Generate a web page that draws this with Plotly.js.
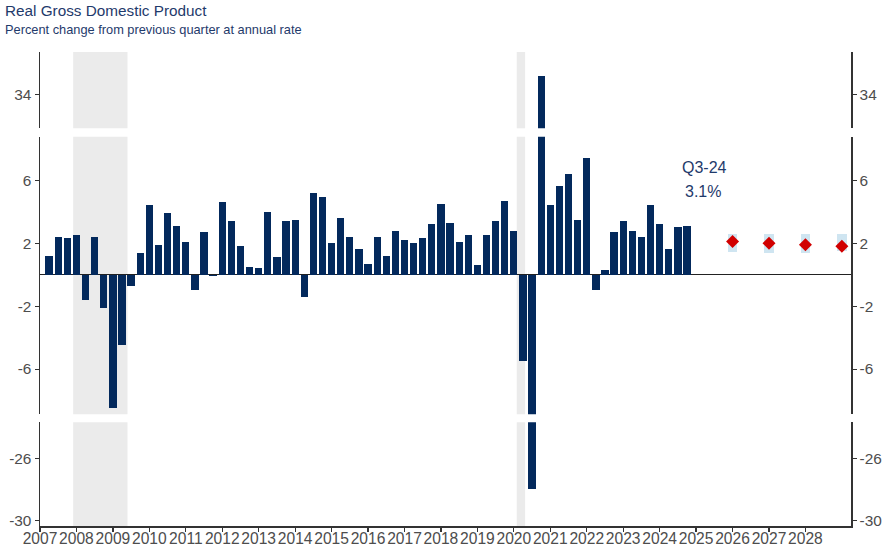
<!DOCTYPE html>
<html>
<head>
<meta charset="utf-8">
<script src="https://cdn.plot.ly/plotly-3.0.1.min.js"></script>
<style>html,body{margin:0;padding:0;background:#fff;}#chart{width:882px;height:548px;}</style>
</head>
<body>
<div id="chart"></div>
<script>
// ---- Data ----
const startYear = 2007;
// Real GDP, % change from previous quarter at annual rate, 2007Q1 .. 2024Q3
const gdpGrowth = [
  1.2, 2.4, 2.3, 2.5,
  -1.6, 2.4, -2.1, -8.5,
  -4.5, -0.7, 1.4, 4.4,
  1.9, 3.9, 3.1, 2.1,
  -1.0, 2.7, -0.1, 4.6,
  3.4, 1.8, 0.5, 0.4,
  4.0, 1.1, 3.4, 3.5,
  -1.4, 5.2, 4.9, 2.0,
  3.6, 2.4, 1.6, 0.7,
  2.4, 1.2, 2.8, 2.2,
  2.0, 2.3, 3.2, 4.5,
  3.3, 2.1, 2.5, 0.6,
  2.5, 3.4, 4.7, 2.8,
  -5.5, -28.0, 35.2, 4.4,
  5.6, 6.4, 3.5, 7.4,
  -1.0, 0.3, 2.7, 3.4,
  2.8, 2.4, 4.4, 3.2,
  1.6, 3.0, 3.1
];
const forecastX = [2026, 2027, 2028, 2029];
const forecastMedian = [2.1, 2.0, 1.9, 1.8];
const forecastLow = [1.45, 1.35, 1.4, 1.5];
const forecastHigh = [2.55, 2.55, 2.55, 2.55];
const recessionStart = [2007.91, 2020.08];
const recessionEnd = [2009.40, 2020.31];
const xTickYears = [2007,2008,2009,2010,2011,2012,2013,2014,2015,2016,2017,2018,2019,2020,2021,2022,2023,2024,2025,2026,2027,2028];
const ticksTop = [34];
const ticksMid = [-6, -2, 2, 6];
const ticksBot = [-30, -26];

// quarter positions (bar dated at quarter end)
const quarterLabels = gdpGrowth.map((_, i) => (startYear + Math.floor(i / 4)) + 'Q' + (i % 4 + 1));
const quarterX = quarterLabels.map(s => { const y = +s.slice(0, 4), q = +s.slice(5); return y + q / 4; });
const lastLabel = quarterLabels[quarterLabels.length - 1];
const lastVal = gdpGrowth[gdpGrowth.length - 1];
const lastText = 'Q' + lastLabel.slice(5) + '-' + lastLabel.slice(2, 4);

const BAR = '#03295c';
const NAVY = '#1f3a6b';
const font = 'Arial, "Liberation Sans", sans-serif';

function barTrace(yax, visibleColor) {
  return { type: 'bar', x: quarterX, y: gdpGrowth, yaxis: yax, xaxis: 'x', width: 0.2,
    marker: { color: visibleColor, line: { width: 0 } }, hoverinfo: 'x+y', showlegend: false };
}

const traces = [
  barTrace('y', BAR), barTrace('y2', BAR), barTrace('y3', BAR),
  // transparent copies so the right-hand axes are drawn
  barTrace('y4', 'rgba(0,0,0,0)'), barTrace('y5', 'rgba(0,0,0,0)'), barTrace('y6', 'rgba(0,0,0,0)'),
  { type: 'bar', x: forecastX, base: forecastLow, y: forecastHigh.map((h, i) => h - forecastLow[i]),
    xaxis: 'x', yaxis: 'y2', width: 0.27, marker: { color: '#cfe5f1', line: { width: 0 } }, showlegend: false, hoverinfo: 'skip' },
  { type: 'scatter', mode: 'markers', x: forecastX, y: forecastMedian, xaxis: 'x', yaxis: 'y2',
    marker: { symbol: 'diamond', size: 10, color: '#d10000' }, showlegend: false }
];

const axCommon = {
  showline: true, linecolor: '#333', linewidth: 1.5, ticks: 'outside', ticklen: 4, tickwidth: 1.2,
  tickcolor: '#333', showgrid: false, zeroline: false,
  tickfont: { family: font, size: 15.4, color: '#4d4d4d' }, fixedrange: true
};
const dBot = [0, 0.219], dMid = [0.236, 0.821], dTop = [0.839, 1];
const rBot = [-30.34, -23.7], rMid = [-8.86, 8.75], rTop = [31.84, 36.7];
const lbl = arr => arr.map(v => String(v));

const shapes = [];
['y domain', 'y2 domain', 'y3 domain'].forEach(yr => {
  recessionStart.forEach((s, i) => {
    shapes.push({ type: 'rect', xref: 'x', yref: yr, x0: s, x1: recessionEnd[i], y0: 0, y1: 1,
      fillcolor: '#ebebeb', line: { width: 0 }, layer: 'below' });
  });
});

const layout = {
  width: 882, height: 548,
  margin: { l: 40, r: 31, t: 52, b: 22 },
  paper_bgcolor: '#fff', plot_bgcolor: 'rgba(0,0,0,0)',
  barmode: 'overlay', bargap: 0,
  showlegend: false,
  xaxis: Object.assign({}, axCommon, { anchor: 'y', range: [2007, 2029.25], tickvals: xTickYears,
    ticktext: lbl(xTickYears), tickangle: 0, ticklabelstandoff: -6,
    tickfont: { family: font, size: 15.6, color: '#4d4d4d' } }),
  yaxis: Object.assign({}, axCommon, { domain: dBot, range: rBot, tickvals: ticksBot, ticktext: lbl(ticksBot), anchor: 'x' }),
  yaxis2: Object.assign({}, axCommon, { domain: dMid, range: rMid, tickvals: ticksMid, ticktext: lbl(ticksMid), anchor: 'x',
    zeroline: true, zerolinecolor: '#222', zerolinewidth: 1.5 }),
  yaxis3: Object.assign({}, axCommon, { domain: dTop, range: rTop, tickvals: ticksTop, ticktext: lbl(ticksTop), anchor: 'x' }),
  yaxis4: Object.assign({}, axCommon, { overlaying: 'y', side: 'right', range: rBot, tickvals: ticksBot, ticktext: lbl(ticksBot), anchor: 'x' }),
  yaxis5: Object.assign({}, axCommon, { overlaying: 'y2', side: 'right', range: rMid, tickvals: ticksMid, ticktext: lbl(ticksMid), anchor: 'x' }),
  yaxis6: Object.assign({}, axCommon, { overlaying: 'y3', side: 'right', range: rTop, tickvals: ticksTop, ticktext: lbl(ticksTop), anchor: 'x' }),
  shapes: shapes,
  annotations: [
    { text: 'Real Gross Domestic Product', xref: 'paper', yref: 'paper', x: -0.0457, y: 1.088,
      xanchor: 'left', yanchor: 'middle', showarrow: false, font: { family: font, size: 15.3, color: NAVY } },
    { text: 'Percent change from previous quarter at annual rate', xref: 'paper', yref: 'paper', x: -0.0457, y: 1.047,
      xanchor: 'left', yanchor: 'middle', showarrow: false, font: { family: font, size: 12.8, color: NAVY } },
    { text: lastText, xref: 'x', yref: 'y2', x: 2025.24, y: 6.8, showarrow: false,
      font: { family: font, size: 16, color: NAVY } },
    { text: lastVal.toFixed(1) + '%', xref: 'x', yref: 'y2', x: 2025.2, y: 5.25, showarrow: false,
      font: { family: font, size: 16, color: NAVY } }
  ]
};

Plotly.newPlot('chart', traces, layout, { displayModeBar: false, staticPlot: true });
</script>
</body>
</html>
